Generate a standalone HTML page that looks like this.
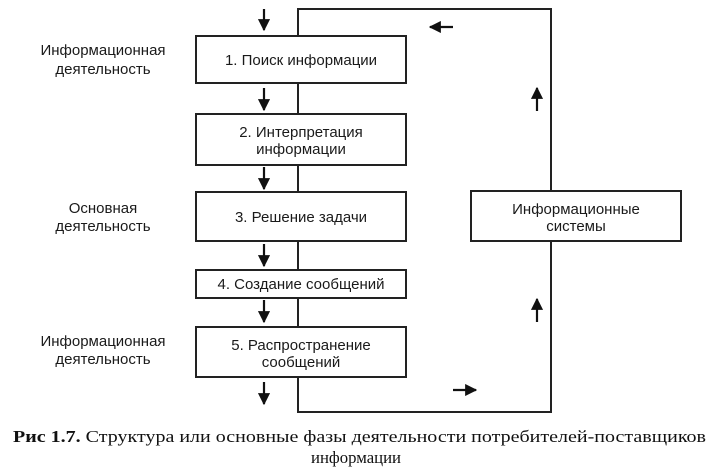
<!DOCTYPE html>
<html><head><meta charset="utf-8"><style>
html,body{margin:0;padding:0;background:#fff;}
svg{display:block;}
.s{font-family:"Liberation Sans",sans-serif;font-size:15px;fill:#1a1a1a;}
.c{font-family:"Liberation Serif",serif;font-size:17px;fill:#111;}
</style></head><body>
<svg width="712" height="475" viewBox="0 0 712 475" xmlns="http://www.w3.org/2000/svg">
<defs>
<marker id="a" viewBox="0 0 10 10" refX="9" refY="5" markerWidth="5.5" markerHeight="5.5" orient="auto" markerUnits="strokeWidth">
<path d="M0,0 L10,5 L0,10 Z" fill="#111"/></marker>
</defs>
<g stroke="#222" stroke-width="2" fill="none">
<polyline points="298,36 298,9 551,9 551,191"/>
<polyline points="551,241 551,412 298,412 298,377"/>
<line x1="298" y1="83" x2="298" y2="114"/>
<line x1="298" y1="165" x2="298" y2="192"/>
<line x1="298" y1="241" x2="298" y2="270"/>
<line x1="298" y1="298" x2="298" y2="327"/>
</g>
<g stroke="#222" stroke-width="2" fill="#fff">
<rect x="196" y="36" width="210" height="47"/>
<rect x="196" y="114" width="210" height="51"/>
<rect x="196" y="192" width="210" height="49"/>
<rect x="196" y="270" width="210" height="28"/>
<rect x="196" y="327" width="210" height="50"/>
<rect x="471" y="191" width="210" height="50"/>
</g>
<g stroke="#111" stroke-width="2.2" marker-end="url(#a)">
<line x1="264" y1="9" x2="264" y2="30"/>
<line x1="264" y1="88" x2="264" y2="110"/>
<line x1="264" y1="167" x2="264" y2="189"/>
<line x1="264" y1="244" x2="264" y2="266"/>
<line x1="264" y1="300" x2="264" y2="322"/>
<line x1="264" y1="382" x2="264" y2="404"/>
<line x1="453" y1="27" x2="430" y2="27"/>
<line x1="537" y1="111" x2="537" y2="88"/>
<line x1="537" y1="322" x2="537" y2="299"/>
<line x1="453" y1="390" x2="476" y2="390"/>
</g>
<g class="s" text-anchor="middle">
<text x="301" y="65">1. Поиск информации</text>
<text x="301" y="137">2. Интерпретация</text>
<text x="301" y="154">информации</text>
<text x="301" y="222">3. Решение задачи</text>
<text x="301" y="289">4. Создание сообщений</text>
<text x="301" y="350">5. Распространение</text>
<text x="301" y="367">сообщений</text>
<text x="576" y="214">Информационные</text>
<text x="576" y="231">системы</text>
<text x="103" y="55">Информационная</text>
<text x="103" y="74">деятельность</text>
<text x="103" y="213">Основная</text>
<text x="103" y="231">деятельность</text>
<text x="103" y="346">Информационная</text>
<text x="103" y="364">деятельность</text>
</g>
<text class="c" x="13" y="442" textLength="693" lengthAdjust="spacingAndGlyphs"><tspan font-weight="bold">Рис 1.7.</tspan> Структура или основные фазы деятельности потребителей-поставщиков</text>
<text class="c" x="356" y="463" text-anchor="middle" textLength="90" lengthAdjust="spacingAndGlyphs">информации</text>
</svg>
</body></html>
